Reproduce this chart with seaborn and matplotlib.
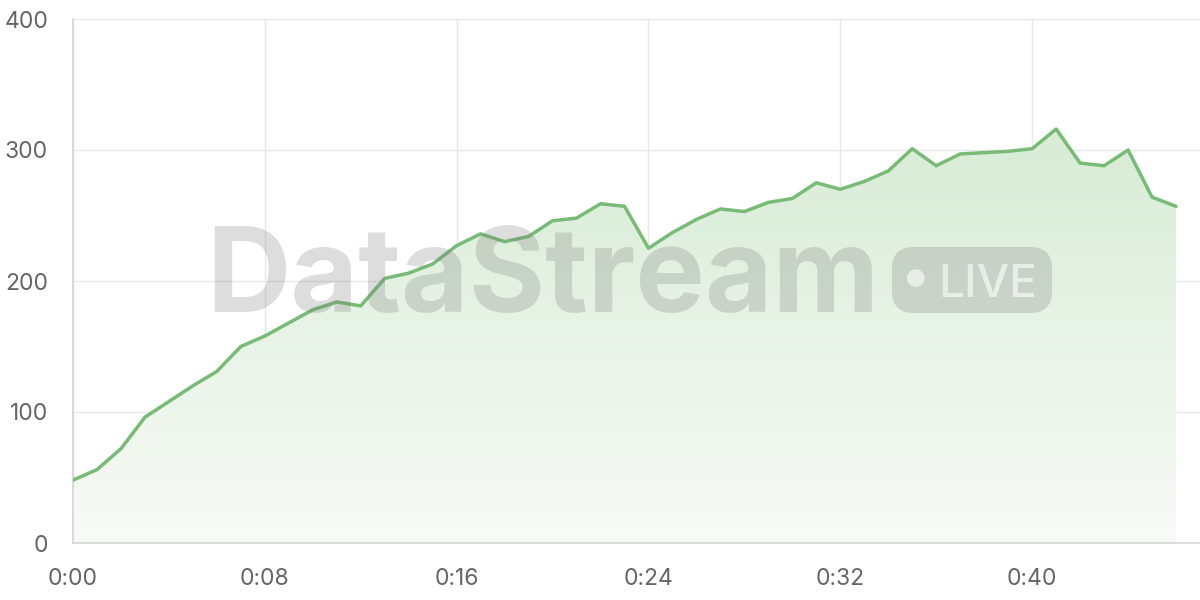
import matplotlib
matplotlib.use("Agg")
import matplotlib.pyplot as plt
from matplotlib.colors import LinearSegmentedColormap
from matplotlib.patches import FancyBboxPatch
import numpy as np
import pandas as pd
import seaborn as sns

# viewers per minute of the stream
minutes = list(range(47))
viewers = [48, 56, 72, 96, 108, 120, 131, 150, 158, 168,
           178, 184, 181, 202, 206, 213, 227, 236, 230, 234,
           246, 248, 259, 257, 225, 237, 247, 255, 253, 260,
           263, 275, 270, 276, 284, 301, 288, 297, 298, 299,
           301, 316, 290, 288, 300, 264, 257]
tick_minutes = [0, 8, 16, 24, 32, 40]
tick_labels = ["0:%02d" % m for m in tick_minutes]
y_ticks = [0, 100, 200, 300, 400]

df = pd.DataFrame({"minute": minutes, "viewers": viewers})

sns.set_style("white")
plt.rcParams['font.family'] = ['Inter', 'DejaVu Sans']

line_color = "#78bb76"
grid_color = "#e8e8e8"

fig = plt.figure(figsize=(12, 6), dpi=100)
ax = fig.add_axes([73/1200, 57/600, 1127/1200, 524/600])

# gradient area under the line
fill = ax.fill_between(df["minute"], df["viewers"], 0, color="none", lw=0)
grad = LinearSegmentedColormap.from_list("g", ["#f8fbf7", "#d6ebd4"])
img = ax.imshow(np.linspace(0, 1, 256).reshape(-1, 1), cmap=grad, aspect="auto",
                origin="lower", extent=[0, 46, 0, 330], zorder=1)
img.set_clip_path(fill.get_paths()[0], transform=ax.transData)

sns.lineplot(data=df, x="minute", y="viewers", color=line_color, linewidth=2.5,
             ax=ax, zorder=3)

ax.set_xlim(0, 47)
ax.set_ylim(0, 400)
ax.set_xticks(tick_minutes)
ax.set_xticklabels(tick_labels)
ax.set_yticks(y_ticks)
ax.grid(True, color=grid_color, linewidth=1)
ax.set_axisbelow(True)
ax.tick_params(axis="both", length=15, width=1, color=grid_color, labelsize=16.5,
               labelcolor="#666666", pad=3)
ax.set_xlabel("")
ax.set_ylabel("")
for side in ["top", "right"]:
    ax.spines[side].set_visible(False)
for side in ["left", "bottom"]:
    ax.spines[side].set_color("#d4d4d4")
    ax.spines[side].set_linewidth(1.2)

# watermark
wm = "#7a7a7a"
fig.text(206/1200, 1 - 312/600, "DataStream", ha="left", va="baseline",
         fontsize=84, fontweight="bold", color=wm, alpha=0.25, zorder=10)
badge = FancyBboxPatch((892/1200, 1 - 313/600), 160/1200, 66/600,
                       boxstyle="round,pad=0,rounding_size=0.018",
                       transform=fig.transFigure, facecolor=wm, edgecolor="none",
                       alpha=0.25, zorder=10, mutation_aspect=2)
fig.patches.append(badge)
fig.text(915/1200, 1 - 281/600, "\u25CF", ha="center", va="center",
         fontsize=17, color="white", alpha=0.6, zorder=11)
fig.text(938/1200, 1 - 297/600, "LIVE", ha="left", va="baseline",
         fontsize=33, fontweight="medium", color="white", alpha=0.6, zorder=11)

plt.savefig("out.png", dpi=100)
